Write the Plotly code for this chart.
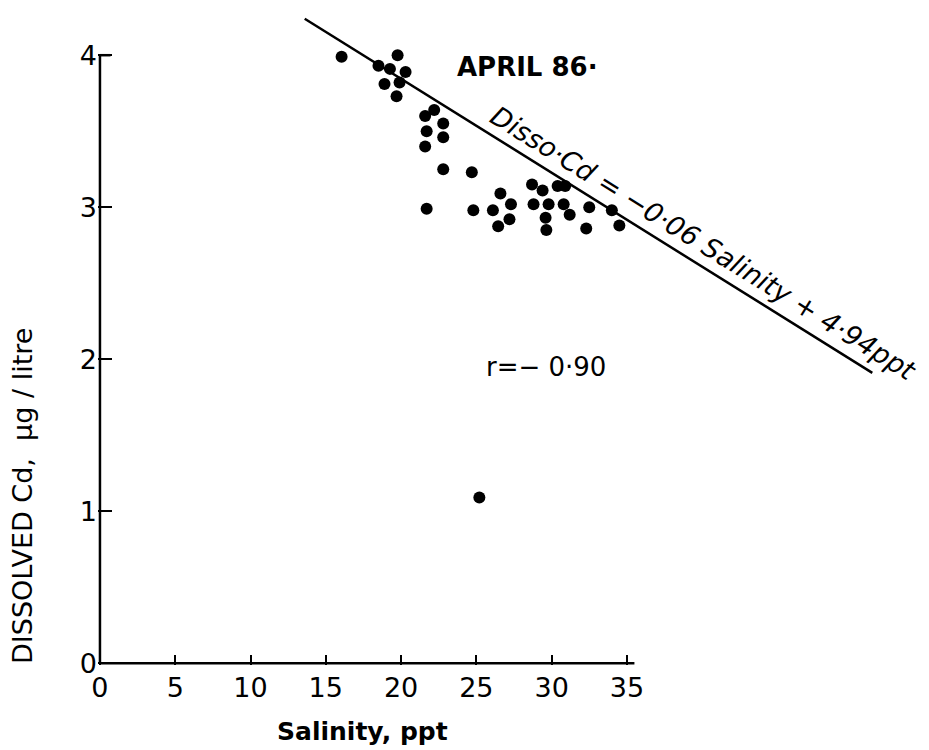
import plotly.graph_objects as go

# Data
salinity = [16.05, 19.77, 18.5, 19.26, 20.3, 18.9, 19.9, 19.7, 22.2, 21.6, 22.8, 21.7, 22.8, 21.6,
            22.8, 24.7, 21.7, 24.8, 26.1, 26.6, 27.3, 27.2, 26.45, 28.7, 29.4, 30.4, 30.9, 28.8,
            29.8, 30.8, 29.6, 31.2, 29.65, 32.5, 32.3, 34.0, 34.5, 25.2]
dissolved_cd = [3.99, 4.00, 3.93, 3.91, 3.89, 3.81, 3.82, 3.73, 3.64, 3.60, 3.55, 3.50, 3.46, 3.40,
                3.25, 3.23, 2.99, 2.98, 2.98, 3.09, 3.02, 2.92, 2.875, 3.15, 3.11, 3.14, 3.14, 3.02,
                3.02, 3.02, 2.93, 2.95, 2.85, 3.00, 2.86, 2.98, 2.88, 1.09]

fit_x = [13.6, 51.3]
fit_y = [4.24, 1.91]

x_ticks = [0, 5, 10, 15, 20, 25, 30, 35]
y_ticks = [0, 1, 2, 3, 4]

FONT = "DejaVu Sans"

fig = go.Figure()

# axis lines
fig.add_trace(go.Scatter(x=[0, 35.5], y=[0, 0], mode="lines",
                         line=dict(color="black", width=2.5), hoverinfo="skip", showlegend=False))
fig.add_trace(go.Scatter(x=[0, 0], y=[0, 4], mode="lines",
                         line=dict(color="black", width=2.5), hoverinfo="skip", showlegend=False))
fig.add_trace(go.Scatter(x=[0, 0.7], y=[4, 4], mode="lines",
                         line=dict(color="black", width=2.5), hoverinfo="skip", showlegend=False))

# regression line
fig.add_trace(go.Scatter(x=fit_x, y=fit_y, mode="lines",
                         line=dict(color="black", width=2.5), showlegend=False))

# data points
fig.add_trace(go.Scatter(x=salinity, y=dissolved_cd, mode="markers",
                         marker=dict(color="black", size=12), showlegend=False))

fig.update_xaxes(range=[-0.13, 55], tickvals=x_ticks, ticktext=[str(v) for v in x_ticks],
                 ticks="inside", ticklen=10, tickwidth=2, tickcolor="black",
                 showgrid=False, zeroline=False, showline=False, ticklabelstandoff=4,
                 tickfont=dict(family=FONT, size=27, color="black"))
fig.update_yaxes(range=[-0.012, 4.35], tickvals=y_ticks, ticktext=[str(v) for v in y_ticks],
                 ticks="inside", ticklen=14, tickwidth=2, tickcolor="black",
                 showgrid=False, zeroline=False, showline=False,
                 tickfont=dict(family=FONT, size=27, color="black"))

fig.add_annotation(text="<b>APRIL 86·</b>", x=23.6, y=3.92, xanchor="left", yanchor="middle",
                   showarrow=False, font=dict(family=FONT, size=26, color="black"))
fig.add_annotation(text="<i>Disso·Cd = −0·06 Salinity + 4·94ppt</i>", x=40.1, y=2.76,
                   textangle=31.8, showarrow=False,
                   font=dict(family=FONT, size=27, color="black"))
fig.add_annotation(text="r=− 0·90", x=29.6, y=1.95, showarrow=False,
                   font=dict(family=FONT, size=26, color="black"))

fig.add_annotation(text="DISSOLVED Cd,  μg / litre", xref="paper", yref="paper",
                   x=(23 - 98) / 830, y=0.255, xanchor="center", yanchor="middle",
                   textangle=-90, showarrow=False,
                   font=dict(family=FONT, size=27, color="black"))
fig.add_annotation(text="<b>Salinity, ppt</b>", xref="paper", yref="paper",
                   x=(362 - 98) / 830, y=(665 - 731) / 663, xanchor="center", yanchor="middle",
                   showarrow=False, font=dict(family=FONT, size=25, color="black"))

fig.update_layout(width=929, height=750, margin=dict(l=98, r=1, t=2, b=85),
                  plot_bgcolor="white", paper_bgcolor="white")

fig.write_html("out.html")
